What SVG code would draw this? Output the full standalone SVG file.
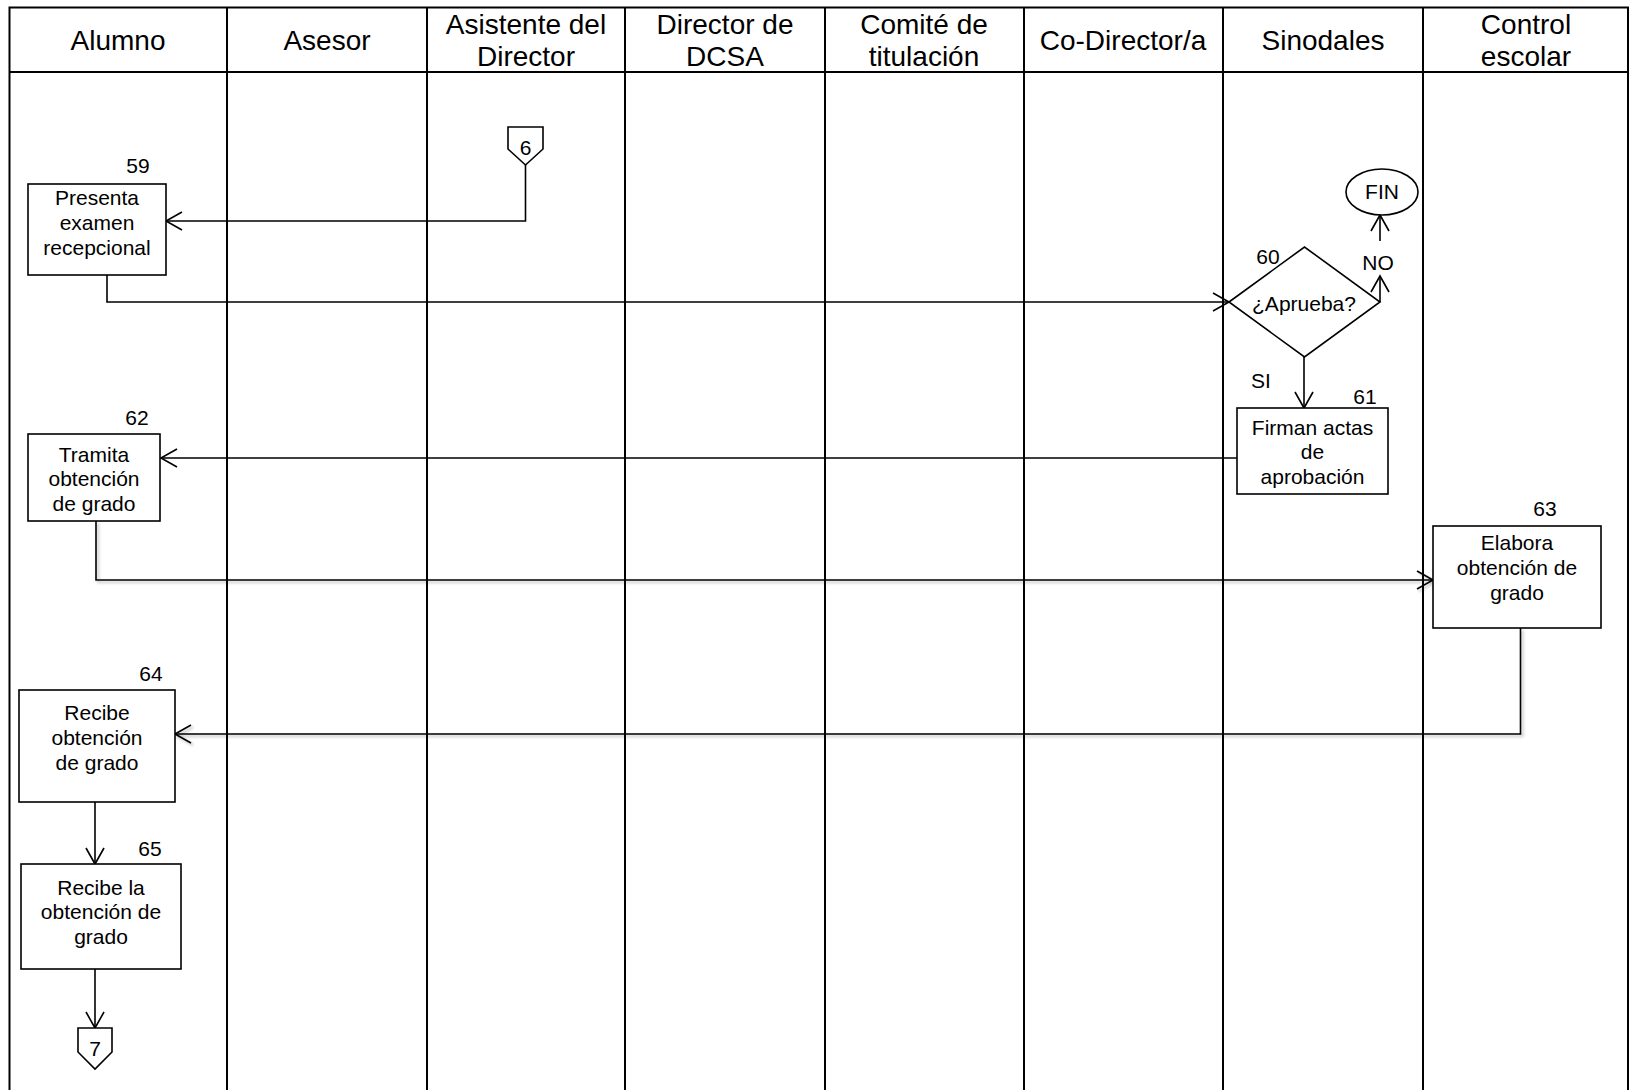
<svg xmlns="http://www.w3.org/2000/svg" width="1633" height="1090" viewBox="0 0 1633 1090">
<defs>
<marker id="arr" markerUnits="userSpaceOnUse" markerWidth="22" markerHeight="22" refX="17" refY="10" orient="auto">
<path d="M1,1 L17,10 L1,19" fill="none" stroke="#000" stroke-width="1.6"/>
</marker>
<filter id="sh" x="-5%" y="-50%" width="110%" height="200%">
<feGaussianBlur in="SourceAlpha" stdDeviation="1.5"/>
<feOffset dx="2" dy="2" result="b"/>
<feComponentTransfer><feFuncA type="linear" slope="0.3"/></feComponentTransfer>
<feMerge><feMergeNode/><feMergeNode in="SourceGraphic"/></feMerge>
</filter>
<style>
.grid{stroke:#000;stroke-width:2;fill:none}
.box{fill:#fff;stroke:#000;stroke-width:1.6}
.con{fill:none;stroke:#000;stroke-width:1.6;marker-end:url(#arr)}
.h{font-family:"Liberation Sans",Arial,sans-serif;font-size:28px;text-anchor:middle;fill:#000}
.t{font-family:"Liberation Sans",Arial,sans-serif;font-size:21px;text-anchor:middle;fill:#000}
</style>
</defs>
<rect width="1633" height="1090" fill="#fff"/>
<g id="lanes">
<path class="grid" d="M9.5,1090 V7.5 H1628 V1090"/>
<path class="grid" d="M9.5,72 H1628"/>
<path class="grid" d="M227,7.5 V1090 M427,7.5 V1090 M625,7.5 V1090 M825,7.5 V1090 M1024,7.5 V1090 M1223,7.5 V1090 M1423,7.5 V1090"/>
<text class="h" x="118" y="50">Alumno</text>
<text class="h" x="327" y="50">Asesor</text>
<text class="h" x="526" y="34">Asistente del</text>
<text class="h" x="526" y="66">Director</text>
<text class="h" x="725" y="34">Director de</text>
<text class="h" x="725" y="66">DCSA</text>
<text class="h" x="924" y="34">Comité de</text>
<text class="h" x="924" y="66">titulación</text>
<text class="h" x="1123" y="50">Co-Director/a</text>
<text class="h" x="1323" y="50">Sinodales</text>
<text class="h" x="1526" y="34">Control</text>
<text class="h" x="1526" y="66">escolar</text>
</g>
<g id="connectors">
<path class="con" d="M525.5,165 V221 H166"/>
<path class="con" d="M107,275 V302 H1229"/>
<path class="con" d="M1380,302 V276"/>
<path class="con" d="M1380,241 V215"/>
<path class="con" d="M1304,357 V408"/>
<path class="con" d="M1237,458 H161"/>
<path class="con" filter="url(#sh)" d="M96,521 V580 H1433"/>
<path class="con" filter="url(#sh)" d="M1520.5,628 V734 H175"/>
<path class="con" d="M95,802 V864"/>
<path class="con" d="M95,969 V1028"/>
<text class="t" x="1378" y="270">NO</text>
<text class="t" x="1261" y="388">SI</text>
</g>
<g id="c6">
<path class="box" d="M508,127 H543 V149 L525.5,165 L508,149 Z"/>
<text class="t" x="525.5" y="155">6</text>
</g>
<g id="n59">
<rect class="box" x="28" y="184" width="138" height="91"/>
<text class="t" x="138" y="173">59</text>
<text class="t" x="97" y="205">Presenta</text>
<text class="t" x="97" y="230">examen</text>
<text class="t" x="97" y="255">recepcional</text>
</g>
<g id="n60">
<path class="box" d="M1229,302 L1304.5,247 L1380,302 L1304.5,357 Z"/>
<text class="t" x="1268" y="264">60</text>
<text class="t" x="1304" y="311">¿Aprueba?</text>
</g>
<g id="fin">
<ellipse class="box" cx="1382" cy="192" rx="36" ry="23"/>
<text class="t" x="1382" y="199">FIN</text>
</g>
<g id="n61">
<rect class="box" x="1237" y="408" width="151" height="86"/>
<text class="t" x="1365" y="404">61</text>
<text class="t" x="1312.5" y="435">Firman actas</text>
<text class="t" x="1312.5" y="459">de</text>
<text class="t" x="1312.5" y="484">aprobación</text>
</g>
<g id="n62">
<rect class="box" x="28" y="434" width="132" height="87"/>
<text class="t" x="137" y="425">62</text>
<text class="t" x="94" y="462">Tramita</text>
<text class="t" x="94" y="486">obtención</text>
<text class="t" x="94" y="511">de grado</text>
</g>
<g id="n63">
<rect class="box" x="1433" y="526" width="168" height="102"/>
<text class="t" x="1545" y="516">63</text>
<text class="t" x="1517" y="550">Elabora</text>
<text class="t" x="1517" y="575">obtención de</text>
<text class="t" x="1517" y="600">grado</text>
</g>
<g id="n64">
<rect class="box" x="19" y="690" width="156" height="112"/>
<text class="t" x="151" y="681">64</text>
<text class="t" x="97" y="720">Recibe</text>
<text class="t" x="97" y="745">obtención</text>
<text class="t" x="97" y="770">de grado</text>
</g>
<g id="n65">
<rect class="box" x="21" y="864" width="160" height="105"/>
<text class="t" x="150" y="856">65</text>
<text class="t" x="101" y="895">Recibe la</text>
<text class="t" x="101" y="919">obtención de</text>
<text class="t" x="101" y="944">grado</text>
</g>
<g id="c7">
<path class="box" d="M78,1028 H112 V1052 L95,1069 L78,1052 Z"/>
<text class="t" x="95" y="1056">7</text>
</g>
</svg>
